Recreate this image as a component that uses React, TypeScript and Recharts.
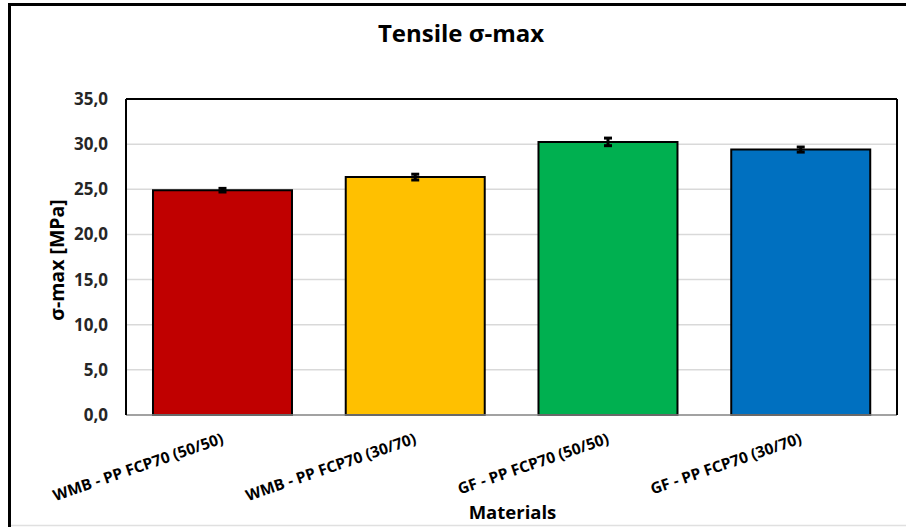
import { Bar, BarChart, CartesianGrid, Cell, ErrorBar, ReferenceLine, XAxis, YAxis } from "recharts";

const materials = [
  "WMB - PP FCP70 (50/50)",
  "WMB - PP FCP70 (30/70)",
  "GF - PP FCP70 (50/50)",
  "GF - PP FCP70 (30/70)",
];
const sigmaMax = [24.9, 26.35, 30.25, 29.4];
const sigmaErr = [0.2, 0.32, 0.42, 0.28];
const barColors = ["#C00000", "#FFC000", "#00B050", "#0070C0"];
const yTicks = [0, 5, 10, 15, 20, 25, 30, 35];

const data = materials.map((name, i) => ({ name, value: sigmaMax[i], err: sigmaErr[i] }));

const FONT = "'Open Sans', sans-serif";

function MaterialTick({ x, y, payload }: any) {
  return (
    <g transform={`translate(${x + 2},${y + 20})`}>
      <text
        textAnchor="end"
        transform="rotate(-19)"
        fontFamily={FONT}
        fontWeight={700}
        fontSize={15.5}
        fill="#000"
      >
        {payload.value}
      </text>
    </g>
  );
}

export default function App() {
  return (
    <div style={{ position: "absolute", left: 0, top: 0, width: 906, height: 527, background: "#fff", overflow: "hidden" }}>
      <div
        style={{
          position: "absolute",
          left: 0,
          width: 922,
          top: 16,
          textAlign: "center",
          fontFamily: FONT,
          fontWeight: 700,
          fontSize: 24,
        }}
      >
        Tensile σ-max
      </div>
      <div style={{ position: "absolute", left: 0, top: 0 }}>
        <BarChart
          width={906}
          height={527}
          data={data}
          margin={{ top: 99, right: 0, bottom: 0, left: 0 }}
          barCategoryGap="14%"
        >
          <CartesianGrid vertical={false} stroke="#d9d9d9" strokeWidth={1.5} />
          <XAxis
            dataKey="name"
            height={112}
            tickLine={false}
            axisLine={{ stroke: "#8c8c8c", strokeWidth: 1.5 }}
            interval={0}
            tick={<MaterialTick />}
            label={{
              content: ({ viewBox }: any) => (
                <text
                  x={viewBox.x + viewBox.width / 2 + 1}
                  y={viewBox.y + 104}
                  textAnchor="middle"
                  fontFamily={FONT}
                  fontWeight={700}
                  fontSize={18.5}
                  fill="#000"
                >
                  Materials
                </text>
              ),
            }}
          />
          <YAxis
            width={126}
            domain={[0, 35]}
            ticks={yTicks}
            interval={0}
            tickLine={false}
            tickMargin={12}
            axisLine={{ stroke: "#000", strokeWidth: 2 }}
            tickFormatter={(v: number) => v.toFixed(1).replace(".", ",")}
            tick={{ fontFamily: FONT, fontWeight: 700, fontSize: 17, fill: "#262626" }}
            label={{
              content: ({ viewBox }: any) => {
                const cx = viewBox.x + 57;
                const cy = viewBox.y + viewBox.height / 2 + 3;
                return (
                  <text
                    x={cx}
                    y={cy}
                    dy={7}
                    transform={`rotate(-90, ${cx}, ${cy})`}
                    textAnchor="middle"
                    fontFamily={FONT}
                    fontWeight={700}
                    fontSize={19.5}
                    fill="#000"
                  >
                    σ-max [MPa]
                  </text>
                );
              },
            }}
          />
          <YAxis
            yAxisId="right"
            orientation="right"
            width={9}
            domain={[0, 35]}
            tick={false}
            tickLine={false}
            axisLine={{ stroke: "#000", strokeWidth: 2 }}
          />
          <ReferenceLine y={35} stroke="#000" strokeWidth={2} />
          <Bar dataKey="value" stroke="#000" strokeWidth={2} isAnimationActive={false}>
            {data.map((d, i) => (
              <Cell key={d.name} fill={barColors[i]} />
            ))}
            <ErrorBar dataKey="err" stroke="#000" strokeWidth={3} width={4} isAnimationActive={false} />
          </Bar>
        </BarChart>
      </div>
      <svg
        width={906}
        height={527}
        style={{ position: "absolute", left: 0, top: 0, zIndex: 5, pointerEvents: "none" }}
      >
        <path d="M9.5 527 V4.5 H906" stroke="#000" strokeWidth={3} fill="none" />
        <line x1={11} y1={525.5} x2={906} y2={525.5} stroke="#e0e0e0" strokeWidth={1.5} />
      </svg>
    </div>
  );
}
